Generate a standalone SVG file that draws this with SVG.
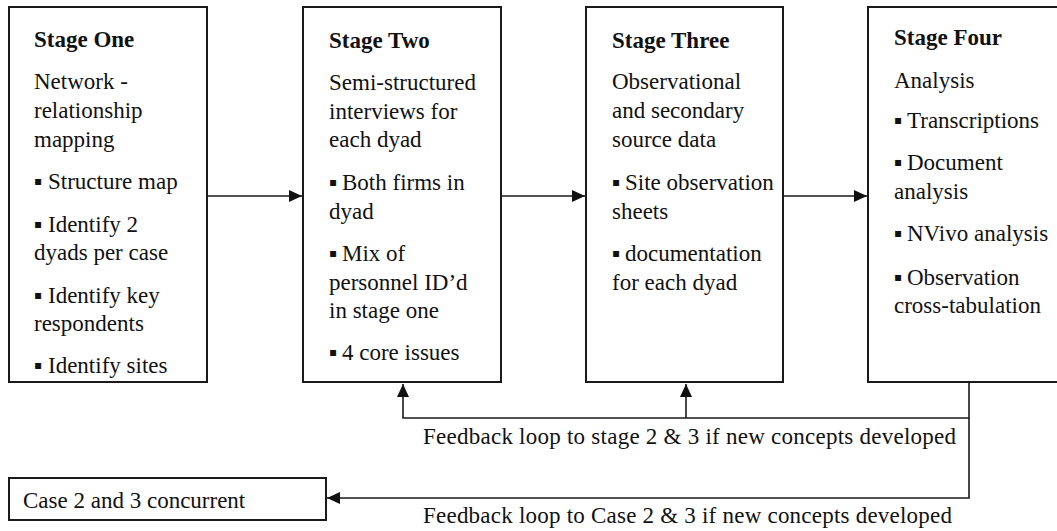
<svg xmlns="http://www.w3.org/2000/svg" width="1057" height="531" viewBox="0 0 1057 531">
<style>
  .box { fill: #ffffff; stroke: #1a1a1a; stroke-width: 2; }
  .t { font-family: "Liberation Serif", "Times New Roman", serif; font-size: 23px; fill: #111111; }
  .h { font-weight: bold; }
  .b { font-family: "DejaVu Sans", sans-serif; font-size: 12px; }
  .c { fill: none; stroke: #1a1a1a; stroke-width: 1.6; }
</style>
<defs>
  <marker id="ah" markerUnits="userSpaceOnUse" markerWidth="13" markerHeight="12" refX="13" refY="6" orient="auto">
    <path d="M0,0 L13,6 L0,12 z" fill="#111111"/>
  </marker>
</defs>
<rect width="1057" height="531" fill="#ffffff"/>

<g id="connectors">
  <path class="c" d="M207,196 H302" marker-end="url(#ah)"/>
  <path class="c" d="M501,196 H585" marker-end="url(#ah)"/>
  <path class="c" d="M783,196 H867" marker-end="url(#ah)"/>
  <path class="c" d="M969,382 V418 H403 V384" marker-end="url(#ah)"/>
  <path class="c" d="M686,418 V384" marker-end="url(#ah)"/>
  <path class="c" d="M969,418 V498 H327" marker-end="url(#ah)"/>
  <text class="t" x="423" y="444" textLength="533" lengthAdjust="spacing">Feedback loop to stage 2 &amp; 3 if new concepts developed</text>
  <text class="t" x="423" y="523" textLength="529" lengthAdjust="spacing">Feedback loop to Case 2 &amp; 3 if new concepts developed</text>
</g>

<g id="stage1">
  <rect class="box" x="9" y="7" width="198" height="375"/>
  <text class="t h" x="34" y="47">Stage One</text>
  <text class="t" x="34" y="89">Network -</text>
  <text class="t" x="34" y="118">relationship</text>
  <text class="t" x="34" y="147">mapping</text>
  <text class="t" x="34" y="189"><tspan class="b" dy="-4">▪</tspan><tspan x="48" y="189">Structure map</tspan></text>
  <text class="t" x="34" y="232"><tspan class="b" dy="-4">▪</tspan><tspan x="48" y="232">Identify 2</tspan></text>
  <text class="t" x="34" y="260">dyads per case</text>
  <text class="t" x="34" y="303"><tspan class="b" dy="-4">▪</tspan><tspan x="48" y="303">Identify key</tspan></text>
  <text class="t" x="34" y="331">respondents</text>
  <text class="t" x="34" y="373"><tspan class="b" dy="-4">▪</tspan><tspan x="48" y="373">Identify sites</tspan></text>
</g>

<g id="stage2">
  <rect class="box" x="303" y="7" width="198" height="375"/>
  <text class="t h" x="329" y="48">Stage Two</text>
  <text class="t" x="329" y="90">Semi-structured</text>
  <text class="t" x="329" y="119">interviews for</text>
  <text class="t" x="329" y="147">each dyad</text>
  <text class="t" x="329" y="190"><tspan class="b" dy="-4">▪</tspan><tspan x="342" y="190">Both firms in</tspan></text>
  <text class="t" x="329" y="219">dyad</text>
  <text class="t" x="329" y="261"><tspan class="b" dy="-4">▪</tspan><tspan x="342" y="261">Mix of</tspan></text>
  <text class="t" x="329" y="290">personnel ID’d</text>
  <text class="t" x="329" y="318">in stage one</text>
  <text class="t" x="329" y="360"><tspan class="b" dy="-4">▪</tspan><tspan x="342" y="360">4 core issues</tspan></text>
</g>

<g id="stage3">
  <rect class="box" x="586" y="7" width="197" height="375"/>
  <text class="t h" x="612" y="48">Stage Three</text>
  <text class="t" x="612" y="89">Observational</text>
  <text class="t" x="612" y="118">and secondary</text>
  <text class="t" x="612" y="147">source data</text>
  <text class="t" x="612" y="190"><tspan class="b" dy="-4">▪</tspan><tspan x="625" y="190">Site observation</tspan></text>
  <text class="t" x="612" y="219">sheets</text>
  <text class="t" x="612" y="261"><tspan class="b" dy="-4">▪</tspan><tspan x="625" y="261">documentation</tspan></text>
  <text class="t" x="612" y="290">for each dyad</text>
</g>

<g id="stage4">
  <rect class="box" x="868" y="7" width="200" height="375"/>
  <text class="t h" x="894" y="45">Stage Four</text>
  <text class="t" x="894" y="88">Analysis</text>
  <text class="t" x="894" y="128"><tspan class="b" dy="-4">▪</tspan><tspan x="907" y="128">Transcriptions</tspan></text>
  <text class="t" x="894" y="170"><tspan class="b" dy="-4">▪</tspan><tspan x="907" y="170">Document</tspan></text>
  <text class="t" x="894" y="199">analysis</text>
  <text class="t" x="894" y="241"><tspan class="b" dy="-4">▪</tspan><tspan x="907" y="241">NVivo analysis</tspan></text>
  <text class="t" x="894" y="285"><tspan class="b" dy="-4">▪</tspan><tspan x="907" y="285">Observation</tspan></text>
  <text class="t" x="894" y="313">cross-tabulation</text>
</g>

<g id="case23">
  <rect class="box" x="9" y="478" width="317" height="42"/>
  <text class="t" x="23" y="508">Case 2 and 3 concurrent</text>
</g>
</svg>
